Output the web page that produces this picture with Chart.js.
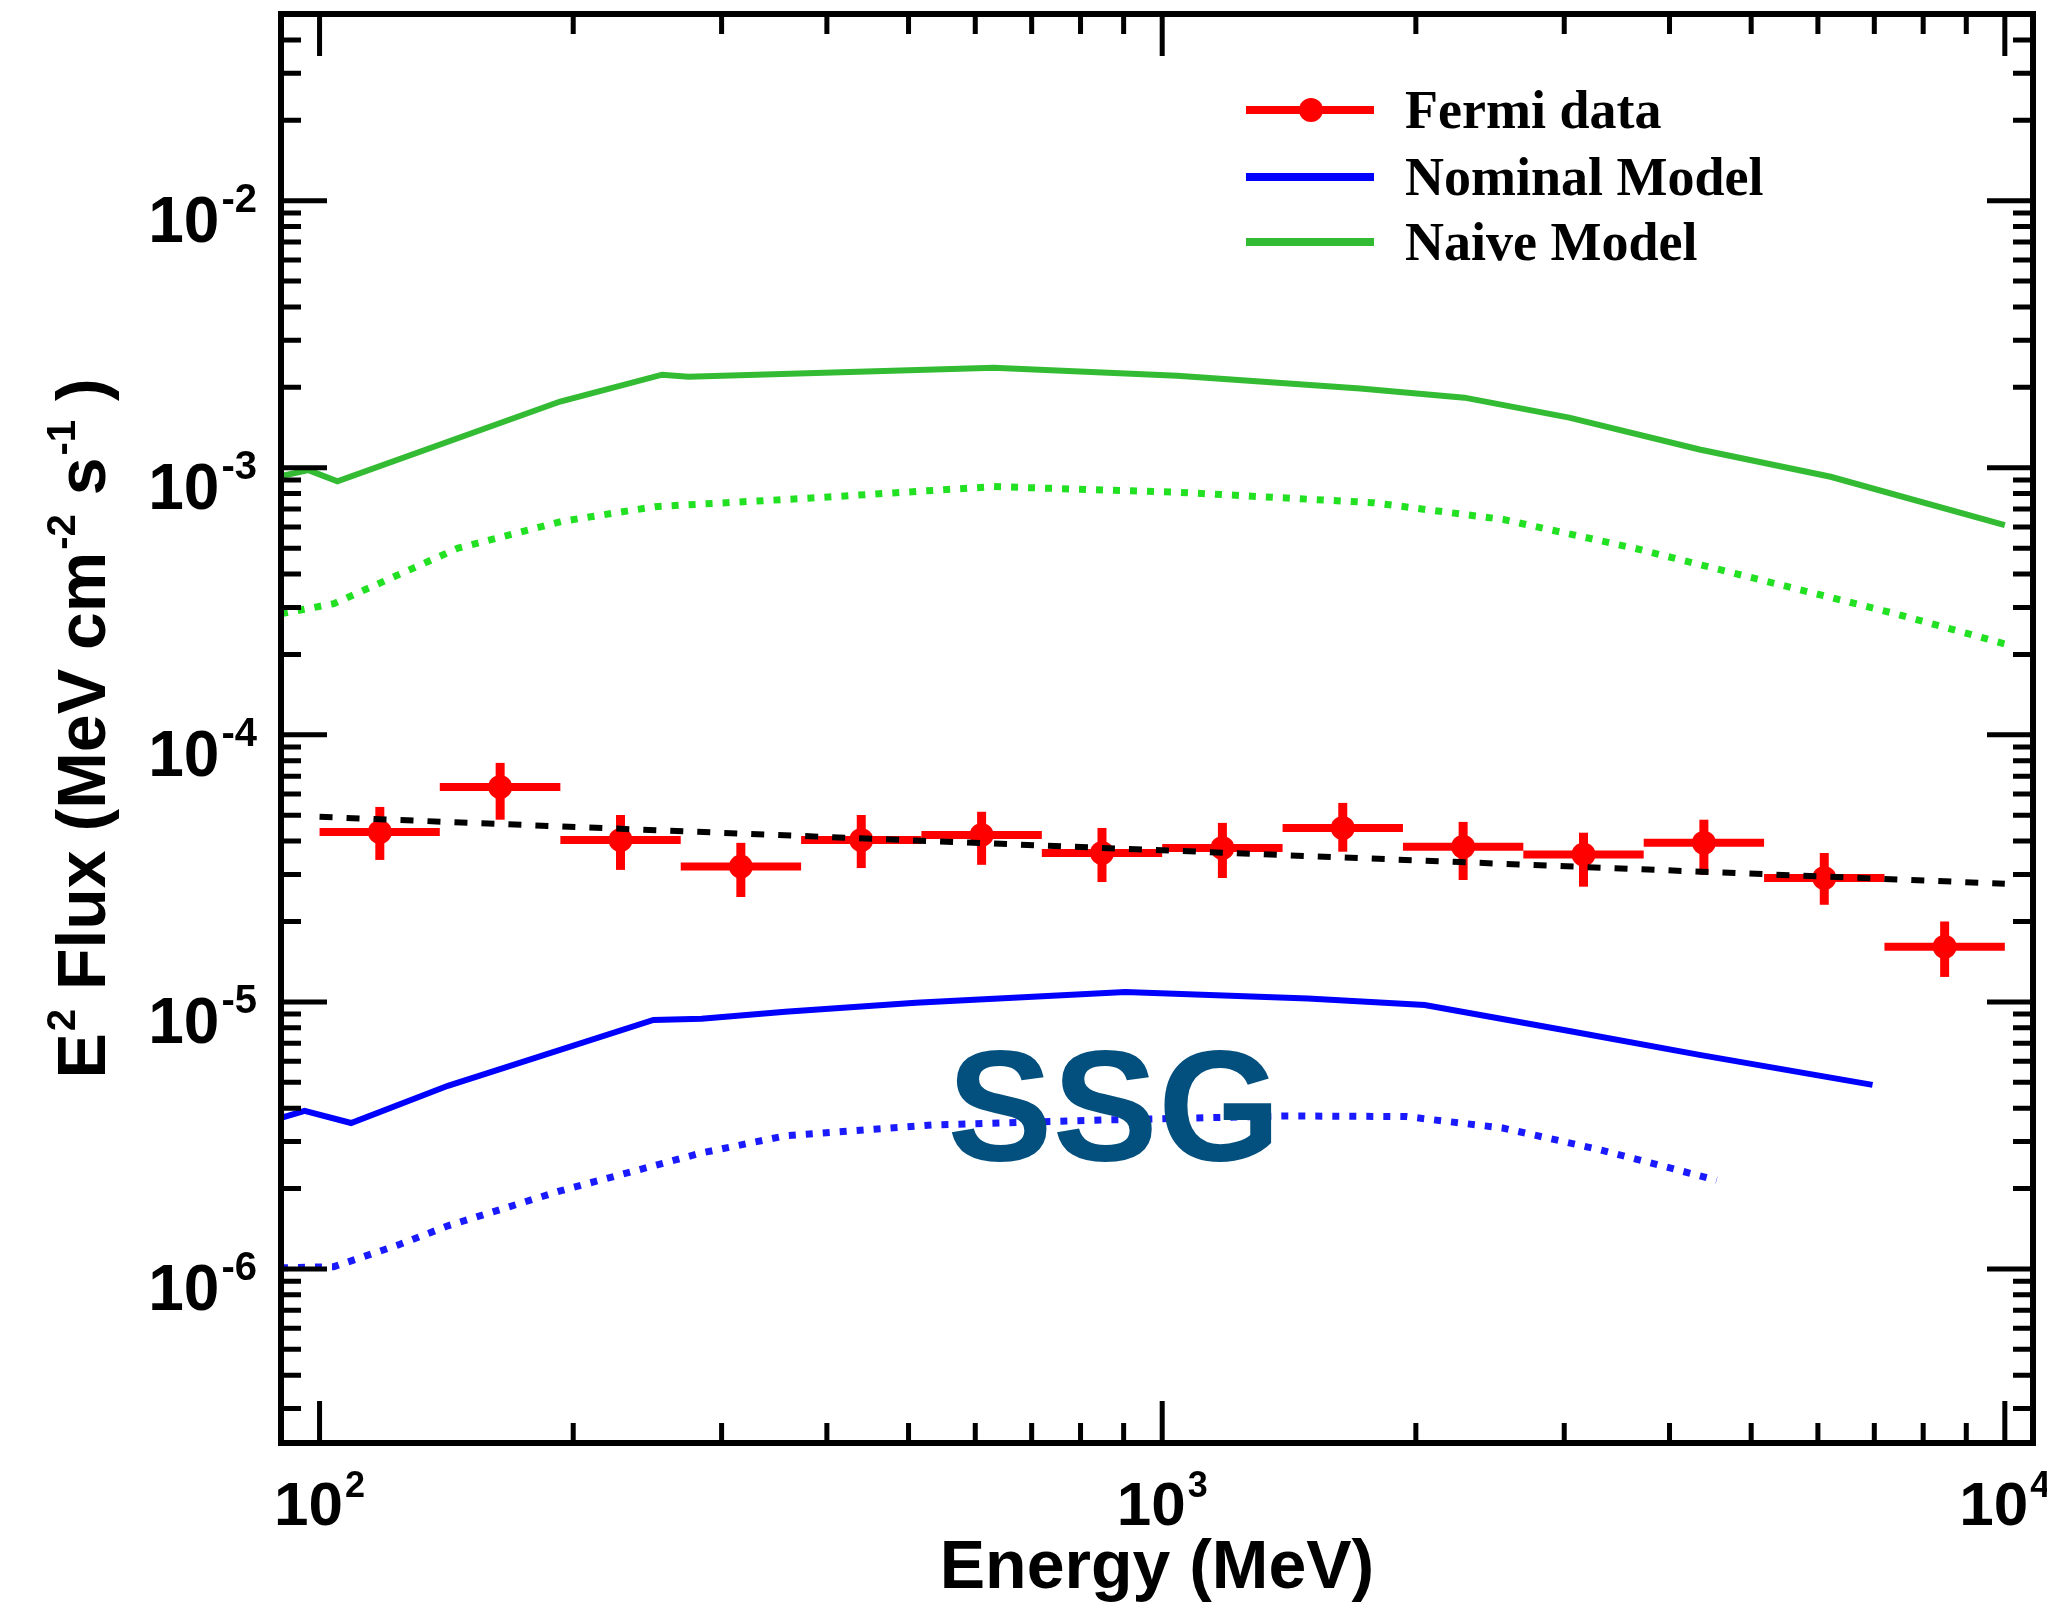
<!DOCTYPE html>
<html>
<head>
<meta charset="utf-8">
<title>SSG gamma-ray spectrum</title>
<script src="https://cdn.jsdelivr.net/npm/chart.js@4.4.1/dist/chart.umd.min.js"></script>
<style>
body{margin:0;background:#fff;}
canvas{display:block;}
</style>
</head>
<body>
<canvas id="myChart" width="2047" height="1602"></canvas>
<script>
const ctx = document.getElementById("myChart");

// axis ranges and tick labels
const xMin = 90, xMax = 10800;
const yMin = 2.23e-7, yMax = 0.05;
const xTicks = [100, 1000, 10000];
const xTickExp = ["2", "3", "4"];
const yTicks = [1e-2, 1e-3, 1e-4, 1e-5, 1e-6];
const yTickExp = ["-2", "-3", "-4", "-5", "-6"];
const minorSteps = [2, 3, 4, 5, 6, 7, 8, 9];

// Fermi data (bin centre, bin edges, flux and errors)
const fermiE   = [117.9, 163.8, 227.6, 316.2, 439.4, 610.5, 848.3, 1178.8, 1637.9, 2275.8, 3162.3, 4393.9, 6105.4, 8483.4];
const fermiELo = [100, 138.9, 193.1, 268.3, 372.8, 517.9, 719.7, 1000, 1389.5, 1930.7, 2682.7, 3727.6, 5179.5, 7196.9];
const fermiEHi = [138.9, 193.1, 268.3, 372.8, 517.9, 719.7, 1000, 1389.5, 1930.7, 2682.7, 3727.6, 5179.5, 7196.9, 10000];
const fermiF   = [4.33e-5, 6.38e-5, 4.04e-5, 3.21e-5, 4.04e-5, 4.22e-5, 3.61e-5, 3.77e-5, 4.48e-5, 3.81e-5, 3.56e-5, 3.94e-5, 2.91e-5, 1.61e-5];
const fermiFLo = [3.40e-5, 4.81e-5, 3.12e-5, 2.47e-5, 3.17e-5, 3.26e-5, 2.81e-5, 2.91e-5, 3.65e-5, 2.86e-5, 2.70e-5, 2.99e-5, 2.31e-5, 1.24e-5];
const fermiFHi = [5.37e-5, 7.85e-5, 5.01e-5, 3.94e-5, 5.01e-5, 5.15e-5, 4.48e-5, 4.68e-5, 5.56e-5, 4.72e-5, 4.30e-5, 4.81e-5, 3.61e-5, 2.00e-5];

// power law fit (black dashed)
const fitE = [100, 10000];
const fitF = [4.93e-5, 2.77e-5];

// naive model, solid and dotted
const naiveE = [90, 97, 105, 193, 255, 274, 631, 1042, 1718, 2284, 3041, 4342, 6212, 10000];
const naiveF = [9.3e-4, 9.8e-4, 8.9e-4, 1.77e-3, 2.23e-3, 2.19e-3, 2.37e-3, 2.21e-3, 1.98e-3, 1.83e-3, 1.54e-3, 1.17e-3, 9.25e-4, 6.1e-4];
const naiveDotE = [90, 104, 146, 194, 250, 383, 631, 1042, 1779, 2541, 3631, 5188, 7418, 10000];
const naiveDotF = [2.84e-4, 3.1e-4, 5.0e-4, 6.3e-4, 7.15e-4, 7.7e-4, 8.5e-4, 8.1e-4, 7.4e-4, 6.4e-4, 5.0e-4, 3.77e-4, 2.84e-4, 2.19e-4];

// nominal model, solid and dotted
const nominalE = [90, 96, 109, 142, 249, 284, 357, 510, 904, 1489, 2049, 3041, 4342, 6966];
const nominalF = [3.68e-6, 3.91e-6, 3.52e-6, 4.85e-6, 8.56e-6, 8.64e-6, 9.18e-6, 9.93e-6, 1.09e-5, 1.03e-5, 9.74e-6, 7.78e-6, 6.33e-6, 4.89e-6];
const nominalDotE = [90, 104, 124, 142, 193, 284, 357, 533, 849, 1400, 1950, 2536, 3300, 4550];
const nominalDotF = [1.01e-6, 1.02e-6, 1.23e-6, 1.45e-6, 1.96e-6, 2.72e-6, 3.15e-6, 3.46e-6, 3.61e-6, 3.74e-6, 3.72e-6, 3.37e-6, 2.8e-6, 2.15e-6];

const legendLabels = ["Fermi data", "Nominal Model", "Naive Model"];
const watermark = "SSG";

function toPoints(xs, ys){
  return xs.map((x, i) => ({x: x, y: ys[i]}));
}

const sansBold = (size) => `bold ${size}px "Liberation Sans", Arial, sans-serif`;
const serifBold = (size) => `bold ${size}px "Liberation Serif", "Times New Roman", serif`;

// draws text made of normal and superscript pieces
function drawRich(c, parts, x, y, align, mainSize, supSize, rise){
  let widths = parts.map(p => {
    c.font = p[1] ? sansBold(supSize) : sansBold(mainSize);
    return c.measureText(p[0]).width + (p[1] ? 2 : 0);
  });
  let total = widths.reduce((a, b) => a + b, 0);
  let cx = x;
  if(align === "right") cx = x - total;
  if(align === "center") cx = x - total / 2;
  c.textAlign = "left";
  c.textBaseline = "alphabetic";
  parts.forEach((p, i) => {
    c.font = p[1] ? sansBold(supSize) : sansBold(mainSize);
    c.fillText(p[0], cx + (p[1] ? 2 : 0), p[1] ? y - rise : y);
    cx += widths[i];
  });
}

const framePlugin = {
  id: "frame",
  beforeDraw(chart){
    const c = chart.ctx;
    c.save();
    c.fillStyle = "#fff";
    c.fillRect(0, 0, chart.width, chart.height);
    c.restore();
  },
  beforeDatasetsDraw(chart){
    // error bars of the Fermi points
    const c = chart.ctx, xs = chart.scales.x, ys = chart.scales.y;
    c.save();
    c.strokeStyle = "#ff0000";
    c.lineCap = "butt";
    fermiE.forEach((e, i) => {
      let px = xs.getPixelForValue(e);
      let py = ys.getPixelForValue(fermiF[i]);
      c.lineWidth = 8;
      c.beginPath();
      c.moveTo(xs.getPixelForValue(fermiELo[i]), py);
      c.lineTo(xs.getPixelForValue(fermiEHi[i]), py);
      c.stroke();
      c.lineWidth = 9;
      c.beginPath();
      c.moveTo(px, ys.getPixelForValue(fermiFLo[i]));
      c.lineTo(px, ys.getPixelForValue(fermiFHi[i]));
      c.stroke();
    });
    c.restore();
  },
  afterDatasetsDraw(chart){
    const c = chart.ctx;
    c.save();
    c.font = sansBold(158);
    c.fillStyle = "#03507f";
    c.textAlign = "center";
    c.textBaseline = "alphabetic";
    c.fillText(watermark, 1114, 1160);
    c.restore();
  },
  afterDraw(chart){
    const c = chart.ctx, a = chart.chartArea;
    const xs = chart.scales.x, ys = chart.scales.y;
    c.save();
    c.strokeStyle = "#000";
    c.fillStyle = "#000";

    // ticks on all four sides, pointing inwards
    c.lineWidth = 5;
    c.beginPath();
    [10, 100, 1000, 10000].forEach(d => {
      minorSteps.forEach(k => {
        let v = k * d;
        if(v <= xMin || v >= xMax) return;
        let px = xs.getPixelForValue(v);
        c.moveTo(px, a.bottom); c.lineTo(px, a.bottom - 20);
        c.moveTo(px, a.top); c.lineTo(px, a.top + 20);
      });
    });
    xTicks.forEach(v => {
      let px = xs.getPixelForValue(v);
      c.moveTo(px, a.bottom); c.lineTo(px, a.bottom - 42);
      c.moveTo(px, a.top); c.lineTo(px, a.top + 42);
    });
    [1e-7, 1e-6, 1e-5, 1e-4, 1e-3, 1e-2].forEach(d => {
      minorSteps.forEach(k => {
        let v = k * d;
        if(v <= yMin || v >= yMax) return;
        let py = ys.getPixelForValue(v);
        c.moveTo(a.left, py); c.lineTo(a.left + 20, py);
        c.moveTo(a.right, py); c.lineTo(a.right - 20, py);
      });
    });
    yTicks.forEach(v => {
      let py = ys.getPixelForValue(v);
      c.moveTo(a.left, py); c.lineTo(a.left + 46, py);
      c.moveTo(a.right, py); c.lineTo(a.right - 46, py);
    });
    c.stroke();

    c.lineWidth = 6;
    c.strokeRect(a.left, a.top, a.right - a.left, a.bottom - a.top);

    // tick labels
    xTicks.forEach((v, i) => {
      drawRich(c, [["10", 0], [xTickExp[i], 1]], xs.getPixelForValue(v), a.bottom + 82, "center", 62, 36, 28);
    });
    yTicks.forEach((v, i) => {
      let py = ys.getPixelForValue(v);
      drawRich(c, [["10", 0], [yTickExp[i], 1]], a.left - 24, py + 41, "right", 64, 40, 30);
    });

    // axis titles
    drawRich(c, [["Energy (MeV)", 0]], (a.left + a.right) / 2, 1588, "center", 68, 40, 30);
    c.translate(105, (a.top + a.bottom) / 2);
    c.rotate(-Math.PI / 2);
    drawRich(c, [["E", 0], ["2", 1], [" Flux (MeV cm", 0], ["-2", 1], [" s", 0], ["-1", 1], [" )", 0]], 0, 0, "center", 68, 40, 30);
    c.setTransform(1, 0, 0, 1, 0, 0);

    // legend
    const legendColors = ["#ff0000", "#0000ff", "#33bb33"];
    const rows = [110, 177, 242];
    legendLabels.forEach((label, i) => {
      c.strokeStyle = legendColors[i];
      c.lineWidth = 8;
      c.beginPath();
      c.moveTo(1246, rows[i]);
      c.lineTo(1374, rows[i]);
      c.stroke();
      if(i === 0){
        c.fillStyle = legendColors[i];
        c.beginPath();
        c.arc(1311, rows[i], 12, 0, Math.PI * 2);
        c.fill();
      }
      c.fillStyle = "#000";
      c.font = serifBold(54);
      c.textAlign = "left";
      c.textBaseline = "middle";
      c.fillText(label, 1405, rows[i] + 4);
    });
    c.restore();
  }
};

let chart = new Chart(ctx, {
  type: "line",
  data: {
    datasets: [
      {
        label: "Power law fit",
        data: toPoints(fitE, fitF),
        borderColor: "#000",
        borderWidth: 6,
        borderDash: [13, 14],
        pointRadius: 0,
        fill: false,
        order: 0
      },
      {
        label: "Fermi data",
        data: toPoints(fermiE, fermiF),
        showLine: false,
        pointRadius: 12,
        pointBackgroundColor: "#ff0000",
        pointBorderWidth: 0,
        borderColor: "#ff0000",
        order: 1
      },
      {
        label: "Nominal Model",
        data: toPoints(nominalE, nominalF),
        borderColor: "#0000ff",
        borderWidth: 6,
        pointRadius: 0,
        fill: false,
        order: 2
      },
      {
        label: "Nominal Model (dotted)",
        data: toPoints(nominalDotE, nominalDotF),
        borderColor: "#1a1aff",
        borderWidth: 7,
        borderDash: [7, 10],
        pointRadius: 0,
        fill: false,
        order: 3
      },
      {
        label: "Naive Model",
        data: toPoints(naiveE, naiveF),
        borderColor: "#33bb33",
        borderWidth: 6,
        pointRadius: 0,
        fill: false,
        order: 4
      },
      {
        label: "Naive Model (dotted)",
        data: toPoints(naiveDotE, naiveDotF),
        borderColor: "#22e022",
        borderWidth: 7,
        borderDash: [7, 10],
        pointRadius: 0,
        fill: false,
        order: 5
      }
    ]
  },
  options: {
    responsive: false,
    animation: false,
    devicePixelRatio: 1,
    layout: {
      padding: {left: 281, right: 14, top: 14, bottom: 159}
    },
    plugins: {
      legend: {display: false},
      tooltip: {enabled: false}
    },
    scales: {
      x: {type: "logarithmic", min: xMin, max: xMax, display: false},
      y: {type: "logarithmic", min: yMin, max: yMax, display: false}
    }
  },
  plugins: [framePlugin]
});
</script>
</body>
</html>
